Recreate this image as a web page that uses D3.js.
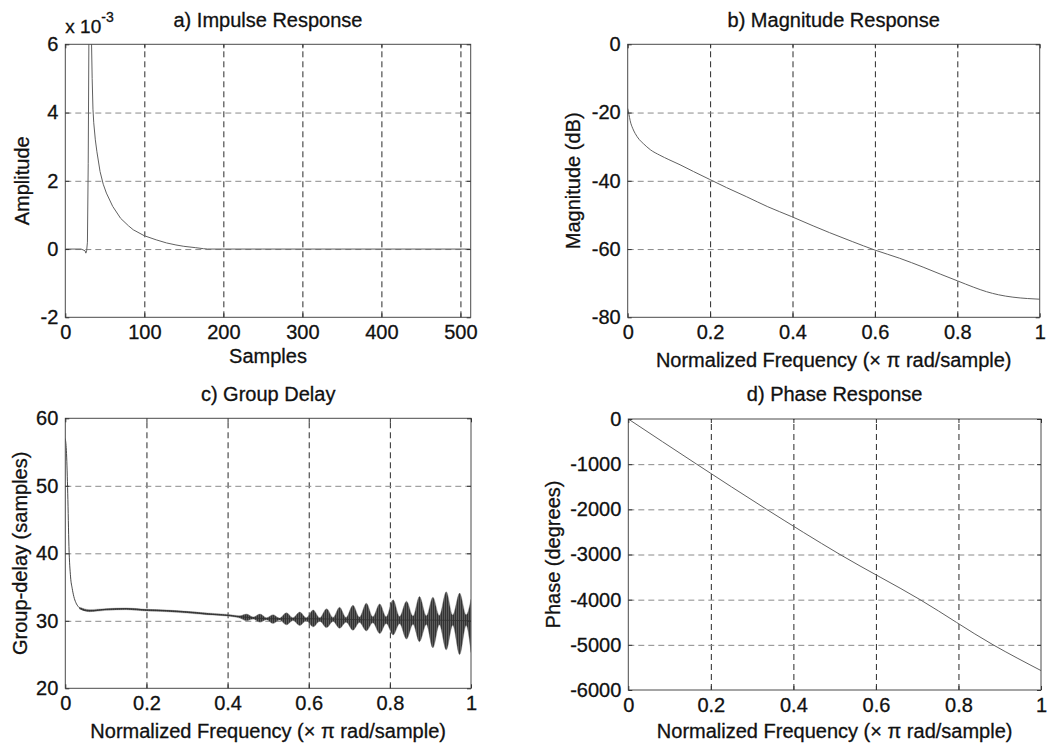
<!DOCTYPE html>
<html>
<head>
<meta charset="utf-8">
<script src="https://cdn.jsdelivr.net/npm/d3@7"></script>
<style>
  html, body { margin: 0; padding: 0; background: #fff; }
  svg { display: block; }
  text { font-family: "Liberation Sans", Arial, Helvetica, sans-serif; fill: #111; stroke: #111; stroke-width: 0.3; }
</style>
</head>
<body>
<svg id="chart" width="1049" height="748"></svg>
<script>
// ---------- a) Impulse response (amplitude in units of 1e-3) ----------
const impN   = [0, 20, 25, 26, 27, 28, 29, 30, 31, 32, 33, 34, 35, 36, 38, 40, 44, 48, 52, 60, 70, 80, 86, 100, 115, 128, 140, 150, 165, 175, 180, 250, 350, 450, 512];
const impAmp = [0, 0, -0.05, -0.12, -0.05, 0.2, 2.5, 6.8, 8.6, 8.2, 6.3, 5.0, 4.1, 3.7, 3.2, 2.85, 2.27, 1.9, 1.64, 1.25, 0.9, 0.68, 0.565, 0.39, 0.27, 0.18, 0.12, 0.08, 0.04, 0.01, 0, 0, 0, 0, 0];
const impXTicks = [0, 100, 200, 300, 400, 500];
const impYTicks = [-2, 0, 2, 4, 6];

// ---------- b) Magnitude response (dB) ----------
const magFreq = [0, 0.003, 0.006, 0.012, 0.018, 0.028, 0.038, 0.055, 0.078, 0.1, 0.127, 0.16, 0.199, 0.24, 0.289, 0.34, 0.398, 0.45, 0.49, 0.545, 0.6, 0.66, 0.717, 0.76, 0.8, 0.84, 0.871, 0.9, 0.935, 0.97, 1.0];
const magDb   = [-18.8, -20.5, -22.4, -24.6, -26.1, -27.9, -29.1, -30.9, -32.5, -33.8, -35.3, -37.3, -39.6, -42.0, -44.7, -47.6, -50.5, -53.2, -55.2, -57.8, -60.3, -62.7, -65.3, -67.4, -69.3, -71.2, -72.5, -73.4, -74.1, -74.5, -74.7];
const magYTicks = [-80, -60, -40, -20, 0];

// ---------- c) Group delay (samples) ----------
// thin trace: steep initial drop, then the slowly drifting centre value
const gdFreq   = [0, 0.003, 0.006, 0.009, 0.013, 0.017, 0.021, 0.026, 0.032, 0.04, 0.05, 0.07, 0.1, 0.15, 0.2, 0.25, 0.3, 0.35, 0.4, 0.45, 0.5, 0.6, 0.7, 0.8, 0.9, 1.0];
const gdDelay  = [57.0, 54.8, 48.9, 41.0, 36.5, 34.8, 33.6, 32.7, 32.1, 31.7, 31.5, 31.5, 31.7, 31.8, 31.6, 31.5, 31.3, 31.0, 30.8, 30.5, 30.3, 30.3, 30.2, 30.1, 30.1, 30.0];
// ripple envelope: upper / lower extent of the oscillation bursts
const ripFreq = [0.035, 0.06, 0.1, 0.15, 0.2, 0.25, 0.3, 0.35, 0.4, 0.43,
                 0.447, 0.463, 0.480, 0.496, 0.512, 0.528, 0.545, 0.561, 0.578, 0.594,
                 0.611, 0.627, 0.644, 0.660, 0.676, 0.692, 0.709, 0.725, 0.742, 0.758,
                 0.775, 0.791, 0.808, 0.824, 0.841, 0.857, 0.873, 0.890, 0.906, 0.922,
                 0.939, 0.955, 0.972, 0.988, 1.0];
const ripHi   = [32.0, 31.65, 31.8, 31.9, 31.7, 31.6, 31.4, 31.15, 30.95, 30.75,
                 31.0, 30.55, 31.0, 30.45, 30.9, 30.4, 31.2, 30.45, 31.3, 30.45,
                 31.6, 30.45, 31.8, 30.5, 32.0, 30.5, 32.3, 30.55, 32.6, 30.6,
                 32.5, 30.6, 33.1, 30.65, 32.9, 30.7, 33.6, 30.75, 33.5, 30.8,
                 34.3, 30.85, 34.1, 30.9, 33.2];
const ripLo   = [31.75, 31.35, 31.55, 31.65, 31.45, 31.35, 31.15, 30.9, 30.7, 30.4,
                 30.0, 30.25, 29.8, 30.15, 29.6, 30.1, 29.4, 30.05, 29.3, 30.0,
                 29.1, 29.95, 29.0, 29.9, 28.9, 29.8, 28.6, 29.75, 28.5, 29.7,
                 28.1, 29.6, 27.9, 29.55, 27.3, 29.5, 26.9, 29.45, 26.0, 29.4,
                 25.7, 29.35, 25.0, 29.3, 25.3];
const gdYTicks = [20, 30, 40, 50, 60];

// ---------- d) Phase response (degrees) ----------
const phFreq = [0, 0.1656, 0.335, 0.513, 0.707, 0.884, 1.0];
const phDeg  = [0, -1000, -2000, -3000, -4000, -5000, -5570];
const phYTicks = [-6000, -5000, -4000, -3000, -2000, -1000, 0];

const freqTicks = [0, 0.2, 0.4, 0.6, 0.8, 1];
const freqLabel = "Normalized Frequency (\u00d7 \u03c0 rad/sample)";

const svg = d3.select("#chart");
const defs = svg.append("defs");

// texture used to shade the dense oscillation bursts
const pat = defs.append("pattern")
  .attr("id", "ripple").attr("patternUnits", "userSpaceOnUse")
  .attr("width", 2).attr("height", 4);
pat.append("rect").attr("width", 2).attr("height", 4).attr("fill", "#7a7a7a");
pat.append("rect").attr("width", 1).attr("height", 4).attr("fill", "#151515");

// axes rectangles of the 2 x 2 layout
const panels = [
  { key: "a", left: 65.3, right: 470.7, top: 44.3, bottom: 317.3,
    title: "a) Impulse Response", titleY: 26.5, xlab: "Samples", xlabY: 362.5,
    ylab: "Amplitude", ylabX: 29,
    xDomain: [0, 513], yDomain: [-2, 6], xTicks: impXTicks, yTicks: impYTicks },
  { key: "b", left: 627.7, right: 1039.7, top: 44.3, bottom: 317.3,
    title: "b) Magnitude Response", titleY: 26.5, xlab: freqLabel, xlabY: 367,
    ylab: "Magnitude (dB)", ylabX: 580,
    xDomain: [0, 1], yDomain: [-80, 0], xTicks: freqTicks, yTicks: magYTicks },
  { key: "c", left: 65.3, right: 471, top: 418.3, bottom: 688.3,
    title: "c) Group Delay", titleY: 400.5, xlab: freqLabel, xlabY: 738,
    ylab: "Group-delay (samples)", ylabX: 27,
    xDomain: [0, 1], yDomain: [20, 60], xTicks: freqTicks, yTicks: gdYTicks },
  { key: "d", left: 628.3, right: 1041, top: 419, bottom: 690,
    title: "d) Phase Response", titleY: 400.5, xlab: freqLabel, xlabY: 738,
    ylab: "Phase (degrees)", ylabX: 560,
    xDomain: [0, 1], yDomain: [-6000, 0], xTicks: freqTicks, yTicks: phYTicks }
];

const fmt = v => String(v);
const FS = 20;

panels.forEach(p => {
  const w = p.right - p.left, h = p.bottom - p.top;
  const x = d3.scaleLinear().domain(p.xDomain).range([0, w]);
  const y = d3.scaleLinear().domain(p.yDomain).range([h, 0]);
  p.x = x; p.y = y;

  const g = svg.append("g").attr("transform", `translate(${p.left},${p.top})`);
  p.g = g;

  defs.append("clipPath").attr("id", "clip-" + p.key)
    .append("rect").attr("x", 0).attr("y", 0).attr("width", w).attr("height", h);

  // dashed grid
  const inner = t => t !== p.xDomain[0] && t !== p.xDomain[1];
  const innerY = t => t !== p.yDomain[0] && t !== p.yDomain[1];
  g.append("g").attr("class", "vgrid")
    .attr("transform", `translate(0,${h})`)
    .call(d3.axisBottom(x).tickValues(p.xTicks.filter(inner)).tickSize(-h).tickFormat(""))
    .call(s => s.select(".domain").remove())
    .call(s => s.selectAll("line").attr("stroke", "#2a2a2a").attr("stroke-width", 1)
      .attr("stroke-dasharray", "6,4"));
  g.append("g").attr("class", "hgrid")
    .call(d3.axisLeft(y).tickValues(p.yTicks.filter(innerY)).tickSize(-w).tickFormat(""))
    .call(s => s.select(".domain").remove())
    .call(s => s.selectAll("line").attr("stroke", "#8a8a8a").attr("stroke-width", 1)
      .attr("stroke-dasharray", "6,4"));

  p.plot = g.append("g").attr("clip-path", `url(#clip-${p.key})`);

  // box
  g.append("rect").attr("x", 0).attr("y", 0).attr("width", w).attr("height", h)
    .attr("fill", "none").attr("stroke", "#4a4a4a").attr("stroke-width", 1);

  // inward ticks with labels
  const styleAxis = s => {
    s.select(".domain").remove();
    s.selectAll("line").attr("stroke", "#333");
    s.selectAll("text").attr("font-size", FS).attr("fill", "#111")
      .style("font-family", '"Liberation Sans", Arial, sans-serif');
  };
  g.append("g").attr("transform", `translate(0,${h})`)
    .call(d3.axisBottom(x).tickValues(p.xTicks).tickFormat(fmt).tickSize(-4).tickPadding(8))
    .call(styleAxis);
  g.append("g")
    .call(d3.axisLeft(y).tickValues(p.yTicks).tickFormat(fmt).tickSize(-4).tickPadding(7))
    .call(styleAxis);
  g.append("g")
    .call(d3.axisTop(x).tickValues(p.xTicks).tickFormat("").tickSize(-4))
    .call(styleAxis);
  g.append("g").attr("transform", `translate(${w},0)`)
    .call(d3.axisRight(y).tickValues(p.yTicks).tickFormat("").tickSize(-4))
    .call(styleAxis);

  // title and axis labels
  svg.append("text").attr("x", p.left + w / 2).attr("y", p.titleY)
    .attr("text-anchor", "middle").attr("font-size", FS).text(p.title);
  svg.append("text").attr("x", p.left + w / 2).attr("y", p.xlabY)
    .attr("text-anchor", "middle").attr("font-size", FS).text(p.xlab);
  svg.append("text")
    .attr("transform", `translate(${p.ylabX},${p.top + h / 2}) rotate(-90)`)
    .attr("text-anchor", "middle").attr("font-size", FS).text(p.ylab);
});

// exponent marker of panel a
const pa = panels[0];
const expo = svg.append("text").attr("x", pa.left).attr("y", 33).attr("font-size", 19);
expo.append("tspan").text("x 10");
expo.append("tspan").attr("dy", -11).attr("font-size", 14).text("-3");

const lineColor = "#606060";

// a) impulse response
{
  const p = panels[0];
  p.plot.append("path")
    .datum(impN.map((n, i) => [n, impAmp[i]]))
    .attr("fill", "none").attr("stroke", lineColor).attr("stroke-width", 1)
    .attr("d", d3.line().x(d => p.x(d[0])).y(d => p.y(d[1])));
}

// b) magnitude
{
  const p = panels[1];
  p.plot.append("path")
    .datum(magFreq.map((f, i) => [f, magDb[i]]))
    .attr("fill", "none").attr("stroke", lineColor).attr("stroke-width", 1)
    .attr("d", d3.line().curve(d3.curveMonotoneX).x(d => p.x(d[0])).y(d => p.y(d[1])));
}

// c) group delay
{
  const p = panels[2];
  p.plot.append("path")
    .datum(ripFreq.map((f, i) => [f, ripLo[i], ripHi[i]]))
    .attr("fill", "url(#ripple)").attr("stroke", "#777").attr("stroke-width", 0.4)
    .attr("d", d3.area().curve(d3.curveMonotoneX)
      .x(d => p.x(d[0])).y0(d => p.y(d[1])).y1(d => p.y(d[2])));
  p.plot.append("path")
    .datum(gdFreq.map((f, i) => [f, gdDelay[i]]))
    .attr("fill", "none").attr("stroke", "#333").attr("stroke-width", 0.9)
    .attr("d", d3.line().curve(d3.curveMonotoneX).x(d => p.x(d[0])).y(d => p.y(d[1])));
}

// d) phase
{
  const p = panels[3];
  p.plot.append("path")
    .datum(phFreq.map((f, i) => [f, phDeg[i]]))
    .attr("fill", "none").attr("stroke", lineColor).attr("stroke-width", 1)
    .attr("d", d3.line().curve(d3.curveMonotoneX).x(d => p.x(d[0])).y(d => p.y(d[1])));
}
</script>
</body>
</html>
